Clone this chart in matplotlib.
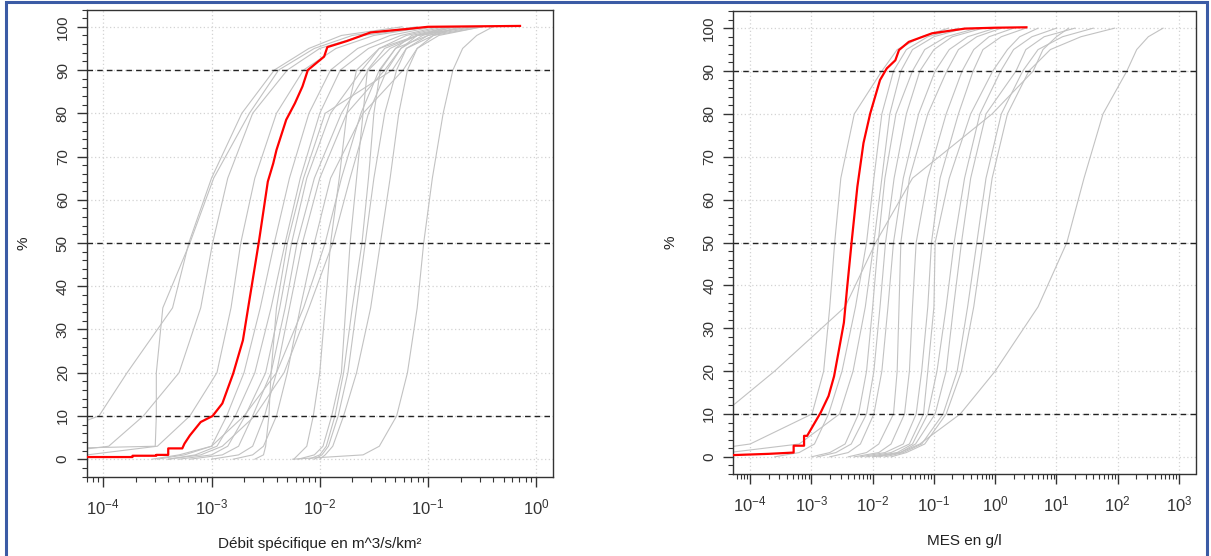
import numpy as np
import matplotlib.pyplot as plt
from matplotlib.ticker import LogLocator, MultipleLocator, NullFormatter
from matplotlib.patches import Rectangle

plt.rcParams.update({'font.family': ['Liberation Sans', 'DejaVu Sans'],
                     'font.size': 11, 'mathtext.default': 'regular',
                     'axes.linewidth': 1.0})

# percent levels shared by the grey curves, x given as log10 values
pct = [0, 1, 3, 10, 20, 35, 50, 65, 80, 90, 95, 98, 100]

# left panel: specific discharge (m3/s/km2), log10 quantiles
debit_grey = [
    [-5.5, -5.2, -4.8, -4.04, -3.78, -3.36, -3.21, -3.0, -2.72, -2.42, -2.1, -1.8, -1.24],
    [-8.0, -7.0, -3.52, -3.51, -3.51, -3.45, -3.2, -2.98, -2.65, -2.38, -2.05, -1.7, -1.1],
    [-5.0, -4.6, -3.95, -3.63, -3.3, -3.1, -2.99, -2.85, -2.62, -2.3, -2.0, -1.6, -1.0],
    [-4.6, -4.15, -3.5, -3.2, -2.95, -2.82, -2.73, -2.6, -2.4, -2.15, -1.85, -1.5, -1.0],
    [-3.55, -3.3, -3.0, -2.86, -2.7, -2.55, -2.42, -2.28, -2.1, -1.9, -1.65, -1.35, -0.95],
    [-3.4, -3.15, -2.95, -2.78, -2.6, -2.45, -2.32, -2.18, -2.0, -1.81, -1.55, -1.25, -0.9],
    [-3.3, -3.0, -2.85, -2.69, -2.5, -2.37, -2.26, -2.12, -1.9, -1.61, -1.45, -1.2, -0.85],
    [-3.2, -2.9, -2.75, -2.62, -2.45, -2.32, -2.21, -2.05, -1.8, -1.55, -1.35, -1.1, -0.8],
    [-3.0, -2.75, -2.62, -2.51, -2.4, -2.28, -2.16, -2.0, -1.75, -1.4, -1.25, -1.05, -0.75],
    [-2.6, -2.52, -2.5, -2.47, -2.45, -2.4, -2.3, -2.15, -1.95, -1.33, -1.2, -1.0, -0.7],
    [-2.8, -2.62, -2.52, -2.4, -2.3, -2.18, -2.05, -1.9, -1.6, -1.23, -1.1, -0.95, -0.7],
    [-3.5, -3.25, -3.0, -2.7, -2.4, -2.15, -1.95, -1.8, -1.62, -1.45, -1.3, -1.15, -0.8],
    [-3.4, -3.1, -2.9, -2.6, -2.33, -2.1, -1.88, -1.72, -1.55, -1.38, -1.25, -1.1, -0.75],
    [-2.24, -2.2, -2.12, -2.06, -2.0, -1.95, -1.9, -1.82, -1.75, -1.66, -1.45, -1.1, -0.6],
    [-2.2, -2.05, -1.97, -1.89, -1.8, -1.76, -1.72, -1.66, -1.6, -1.56, -1.4, -1.1, -0.6],
    [-2.1, -2.0, -1.94, -1.86, -1.78, -1.7, -1.61, -1.55, -1.5, -1.44, -1.3, -1.0, -0.55],
    [-2.05, -1.98, -1.92, -1.83, -1.74, -1.66, -1.58, -1.5, -1.4, -1.29, -1.2, -0.95, -0.5],
    [-2.0, -1.95, -1.88, -1.78, -1.66, -1.53, -1.44, -1.35, -1.27, -1.19, -1.1, -0.9, -0.5],
    [-2.25, -1.6, -1.45, -1.29, -1.19, -1.1, -1.04, -0.96, -0.86, -0.77, -0.68, -0.55, -0.4],
]
debit_red_pct = [0.5, 0.5, 0.8, 0.8, 1.0, 1.0, 2.5, 2.5, 3.6, 5.5, 8.6, 10, 12.9, 19.8, 27.5,
                 36.8, 44.5, 50.7, 64.2, 68.4, 71.5, 78.5, 82.3, 86.2, 90, 93.1, 95.3, 96.7,
                 98.7, 99.5, 100, 100.2]
debit_red_lx = [-4.3, -3.73, -3.73, -3.51, -3.51, -3.4, -3.4, -3.27, -3.25, -3.2, -3.1, -2.99,
                -2.9, -2.8, -2.71, -2.65, -2.6, -2.56, -2.48, -2.43, -2.4, -2.31, -2.23, -2.16,
                -2.11, -1.96, -1.93, -1.75, -1.53, -1.19, -1.0, -0.15]

# right panel: suspended matter (g/l), log10 quantiles
mes_grey = [
    [-5.5, -5.0, -4.0, -2.99, -2.8, -2.7, -2.62, -2.52, -2.3, -1.85, -1.6, -1.2, -0.76],
    [-6.5, -6.0, -5.3, -4.45, -3.6, -2.45, -1.95, -1.35, -0.05, 0.62, 0.78, 1.0, 1.2],
    [-3.6, -3.2, -2.95, -2.72, -2.5, -2.28, -2.1, -1.98, -1.85, -1.66, -1.45, -1.1, -0.6],
    [-5.0, -4.35, -3.2, -2.54, -2.32, -2.12, -1.98, -1.85, -1.72, -1.54, -1.35, -1.0, -0.5],
    [-3.0, -2.7, -2.45, -2.23, -2.1, -2.0, -1.91, -1.8, -1.62, -1.35, -1.15, -0.8, -0.3],
    [-2.9, -2.6, -2.35, -2.1, -1.98, -1.88, -1.79, -1.65, -1.45, -1.23, -1.0, -0.7, -0.2],
    [-2.7, -2.4, -2.2, -1.98, -1.85, -1.75, -1.66, -1.5, -1.25, -0.98, -0.75, -0.45, 0.0],
    [-2.4, -2.1, -1.9, -1.66, -1.6, -1.57, -1.54, -1.4, -1.1, -0.79, -0.6, -0.3, 0.1],
    [-2.3, -1.9, -1.7, -1.48, -1.4, -1.35, -1.29, -1.1, -0.8, -0.54, -0.35, -0.1, 0.3],
    [-2.2, -1.8, -1.5, -1.29, -1.2, -1.1, -1.04, -0.9, -0.6, -0.36, -0.2, 0.1, 0.5],
    [-2.1, -1.7, -1.4, -1.17, -1.1, -1.0, -0.98, -0.75, -0.4, -0.04, 0.2, 0.4, 0.7],
    [-2.0, -1.6, -1.35, -1.1, -0.95, -0.8, -0.67, -0.5, -0.25, 0.09, 0.3, 0.6, 1.0],
    [-1.9, -1.55, -1.3, -0.98, -0.8, -0.68, -0.55, -0.4, -0.15, 0.34, 0.5, 0.8, 1.3],
    [-1.8, -1.5, -1.2, -0.85, -0.62, -0.45, -0.3, -0.15, 0.1, 0.45, 0.7, 1.1, 1.6],
    [-1.7, -1.45, -1.15, -0.8, -0.55, -0.35, -0.2, -0.05, 0.2, 0.55, 0.9, 1.4, 1.95],
    [-2.0, -1.55, -1.23, -0.57, 0.0, 0.7, 1.17, 1.45, 1.76, 2.15, 2.31, 2.5, 2.74],
]
mes_red_pct = [0.4, 0.7, 1.0, 1.0, 2.6, 2.6, 4.9, 4.9, 7.6, 10.3, 14.2, 18.8, 25, 31.3, 39,
               50.6, 63, 73.2, 80.1, 84, 87.9, 90.6, 92.5, 94.9, 96.8, 98.8, 99.9, 100.1, 100.2]
mes_red_lx = [-4.3, -3.7, -3.29, -3.29, -3.29, -3.12, -3.12, -3.07, -2.96, -2.85, -2.72,
              -2.63, -2.55, -2.47, -2.42, -2.34, -2.25, -2.15, -2.04, -1.96, -1.88, -1.77,
              -1.63, -1.57, -1.41, -1.03, -0.49, 0.0, 0.51]

W, H = 1211, 556
fig = plt.figure(figsize=(W / 100, H / 100), dpi=100)

panels = [
    dict(rect=[86.5 / W, 1 - 476.5 / H, 466 / W, 467 / H], grey=debit_grey,
         rp=debit_red_pct, rx=debit_red_lx, xlim=(10 ** -4.155, 10 ** 0.15),
         decades=range(-4, 1), xlabel='Débit spécifique en m^3/s/km²'),
    dict(rect=[733 / W, 1 - 474 / H, 462.5 / W, 463 / H], grey=mes_grey,
         rp=mes_red_pct, rx=mes_red_lx, xlim=(10 ** -4.28, 10 ** 3.27),
         decades=range(-4, 4), xlabel='MES en g/l'),
]

for p in panels:
    ax = fig.add_axes(p['rect'])
    ax.set_xscale('log')
    for d in p['decades']:
        ax.axvline(10.0 ** d, color='#d3d3d3', lw=0.9, ls=(0, (1, 2)), zorder=0)
    for v in range(0, 101, 10):
        ax.axhline(v, color='#d3d3d3', lw=0.9, ls=(0, (1, 2)), zorder=0)
    for lx in p['grey']:
        ax.plot(10.0 ** np.array(lx), pct, color='#c2c2c2', lw=0.8, zorder=1)
    for v in (10, 50, 90):
        ax.axhline(v, color='#222222', lw=1.0, ls=(0, (4, 3)), zorder=2)
    ax.plot(10.0 ** np.array(p['rx']), p['rp'], color='red', lw=1.6, zorder=3)

    ax.set_xlim(*p['xlim'])
    ax.set_ylim(-4, 104)
    ax.xaxis.set_major_locator(LogLocator(base=10, numticks=20))
    ax.xaxis.set_minor_locator(LogLocator(base=10, subs=np.arange(2, 10), numticks=20))
    ax.xaxis.set_minor_formatter(NullFormatter())
    ax.yaxis.set_major_locator(MultipleLocator(10))
    ax.yaxis.set_minor_locator(MultipleLocator(2))
    ax.tick_params(which='major', length=7, width=1, colors='#333333', labelsize=11, pad=5)
    ax.tick_params(which='minor', length=3.5, width=0.8, colors='#333333')
    ax.tick_params(axis='x', labelsize=12, pad=8)
    for lab in ax.get_yticklabels():
        lab.set_rotation(90)
        lab.set_va('center')
    ax.set_ylabel('%', labelpad=18, fontsize=11, color='#222222')
    ax.set_xlabel(p['xlabel'], labelpad=14, fontsize=11, color='#222222')
    for s in ax.spines.values():
        s.set_color('#333333')

fig.add_artist(Rectangle((5.5 / W, -0.1), 1201.5 / W, 1.1 - 1.5 / H, transform=fig.transFigure,
                         fill=False, edgecolor='#3b5ba5', lw=2.2))

fig.savefig('out.png', dpi=100)
